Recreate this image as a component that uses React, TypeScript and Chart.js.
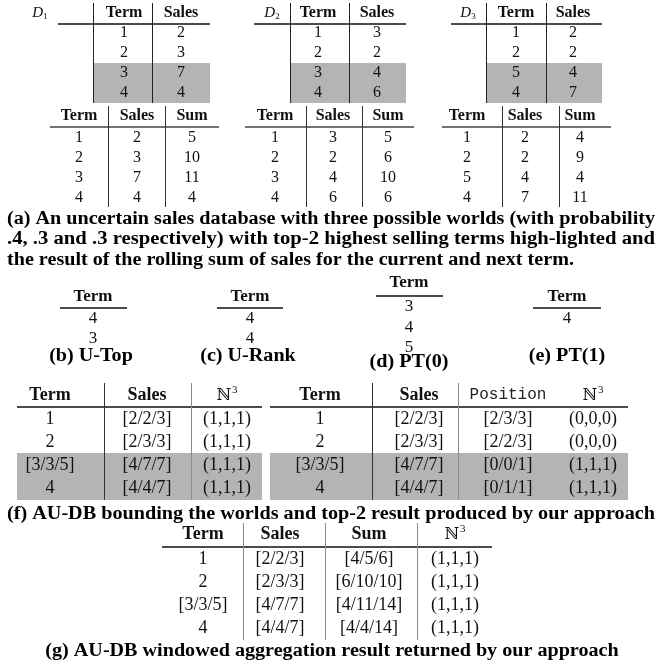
import React, { useEffect, useRef } from "react";
import { Chart, registerables } from "chart.js";

Chart.register(...registerables);

// ---------------- DATA ----------------
const worldIds = ["1", "2", "3"];
const worldTerms = [
  ["1", "2", "3", "4"],
  ["1", "2", "3", "4"],
  ["1", "2", "5", "4"],
];
const worldSales = [
  ["2", "3", "7", "4"],
  ["3", "2", "4", "6"],
  ["2", "2", "4", "7"],
];
const worldSums = [
  ["5", "10", "11", "4"],
  ["5", "6", "10", "6"],
  ["4", "9", "4", "11"],
];

const uTopTerms = ["4", "3"];
const uRankTerms = ["4", "4"];
const pt0Terms = ["3", "4", "5"];
const pt1Terms = ["4"];

const auTerms = ["1", "2", "[3/3/5]", "4"];
const auSales = ["[2/2/3]", "[2/3/3]", "[4/7/7]", "[4/4/7]"];
const auMult = ["(1,1,1)", "(1,1,1)", "(1,1,1)", "(1,1,1)"];
const topkPosition = ["[2/3/3]", "[2/2/3]", "[0/0/1]", "[0/1/1]"];
const topkMult = ["(0,0,0)", "(0,0,0)", "(1,1,1)", "(1,1,1)"];
const winSum = ["[4/5/6]", "[6/10/10]", "[4/11/14]", "[4/4/14]"];
const winMult = ["(1,1,1)", "(1,1,1)", "(1,1,1)", "(1,1,1)"];

const captionA = [
  "(a) An uncertain sales database with three possible worlds (with probability",
  ".4, .3 and .3 respectively) with top-2 highest selling terms high-lighted and",
  "the result of the rolling sum of sales for the current and next term.",
];
const captionB = "(b) U-Top";
const captionC = "(c) U-Rank";
const captionD = "(d) PT(0)";
const captionE = "(e) PT(1)";
const captionF = "(f) AU-DB bounding the worlds and top-2 result produced by our approach";
const captionG = "(g) AU-DB windowed aggregation result returned by our approach";

// ---------------- LAYOUT / STYLE ----------------
const W = 664;
const H = 667;
const SERIF = "'Liberation Serif', 'Times New Roman', serif";
const MONO = "'Liberation Mono', 'DejaVu Sans Mono', monospace";
const BODY = `16px ${SERIF}`;
const HEAD = `bold 16px ${SERIF}`;
const BODY_L = `18px ${SERIF}`;
const HEAD_L = `bold 18px ${SERIF}`;
const MINI_HEAD = `bold 17px ${SERIF}`;
const MINI_BODY = `17px ${SERIF}`;
const CAP = `bold 18px ${SERIF}`;
const GRAY = "#b4b4b4";
const LINE_DARK = "#333";
const LINE_GRAY = "#8a8a8a";

const topLayout = {
  labelX: [40, 272, 468],
  termX: [124, 318, 516],
  salesX: [181, 377, 573],
  vlines: [[93, 152], [290, 349], [486, 546]],
  lineX: [[58, 210], [254, 406], [451, 602]],
  headerY: 13,
  underlineY: 24,
  rowY: [33, 53, 73, 93],
  grayY: [63, 103],
  vY: [3, 103],
};
const sumLayout = {
  termX: [79, 275, 467],
  salesX: [137, 333, 525],
  sumX: [192, 388, 580],
  vlines: [[108, 165], [306, 362], [502, 559]],
  lineX: [[50, 219], [245, 414], [442, 611]],
  headerY: 116,
  underlineY: 127,
  rowY: [138, 158, 178, 198],
  vY: [106, 207],
};
const capALayout = { x: 7, width: 648, y: [219, 239, 260] };

const miniLayouts = [
  { cx: 93, headerY: 297, lineY: 308, lineX: [60, 127], rowY: [319, 339], capX: 91, capY: 356 },
  { cx: 250, headerY: 297, lineY: 308, lineX: [217, 283], rowY: [319, 339], capX: 248, capY: 356 },
  { cx: 409, headerY: 283, lineY: 296, lineX: [376, 443], rowY: [307, 328, 348], capX: 409, capY: 362 },
  { cx: 567, headerY: 297, lineY: 308, lineX: [533, 601], rowY: [319], capX: 567, capY: 356 },
];

const fLayout = {
  headerY: 395,
  underlineY: 407,
  rowY: [419, 442, 465, 488],
  grayY: [453, 500],
  vY: [383, 500],
  left: { cols: [50, 147, 227], vlines: [[104, LINE_DARK], [191, LINE_GRAY]], lineX: [17, 262] },
  right: { cols: [320, 419, 508, 593], vlines: [[372, LINE_DARK], [458, LINE_GRAY]], lineX: [270, 628] },
  capY: 514,
};
const gLayout = {
  cols: [203, 280, 369, 455],
  vlines: [243, 325, 417],
  lineX: [162, 492],
  headerY: 534,
  underlineY: 547,
  rowY: [559, 582, 605, 628],
  vY: [523, 640],
  capY: 651,
  capCX: 332,
};

// ---------------- DRAWING PLUGIN ----------------
const tablePlugin = {
  id: "tablePlugin",
  afterDraw(chart: any) {
    const ctx: CanvasRenderingContext2D = chart.ctx;
    const xs = chart.scales.x;
    const ys = chart.scales.y;
    const px = (v: number) => xs.getPixelForValue(v);
    const py = (v: number) => ys.getPixelForValue(v);

    const text = (s: string, x: number, y: number, font: string, align: CanvasTextAlign = "center", color = "#111") => {
      ctx.save();
      ctx.font = font;
      ctx.fillStyle = color;
      ctx.textAlign = align;
      ctx.textBaseline = "middle";
      ctx.fillText(s, px(x), py(y));
      ctx.restore();
    };
    const hline = (x0: number, x1: number, y: number, w = 1.3, color = "#111") => {
      ctx.save();
      ctx.strokeStyle = color;
      ctx.lineWidth = w;
      ctx.beginPath();
      ctx.moveTo(px(x0), py(y));
      ctx.lineTo(px(x1), py(y));
      ctx.stroke();
      ctx.restore();
    };
    const vline = (x: number, y0: number, y1: number, color = LINE_DARK, w = 1) => {
      ctx.save();
      ctx.strokeStyle = color;
      ctx.lineWidth = w;
      ctx.beginPath();
      ctx.moveTo(Math.round(px(x)) + 0.5, py(y0));
      ctx.lineTo(Math.round(px(x)) + 0.5, py(y1));
      ctx.stroke();
      ctx.restore();
    };
    const rect = (x0: number, x1: number, y0: number, y1: number) => {
      ctx.save();
      ctx.fillStyle = GRAY;
      ctx.fillRect(px(x0), py(y0), px(x1) - px(x0), py(y1) - py(y0));
      ctx.restore();
    };
    const nCube = (cx: number, y: number) => {
      ctx.save();
      ctx.fillStyle = "#111";
      ctx.textBaseline = "middle";
      ctx.font = `16px 'DejaVu Serif', serif`;
      const wN = ctx.measureText("ℕ").width;
      ctx.font = `11px ${SERIF}`;
      const w3 = ctx.measureText("3").width;
      const total = wN + w3 + 1;
      const x0 = px(cx) - total / 2;
      ctx.textAlign = "left";
      ctx.font = `16px 'DejaVu Serif', serif`;
      ctx.fillText("ℕ", x0, py(y) + 1);
      ctx.font = `11px ${SERIF}`;
      ctx.fillText("3", x0 + wN + 1, py(y) - 5);
      ctx.restore();
    };
    const dLabel = (id: string, cx: number, y: number) => {
      ctx.save();
      ctx.fillStyle = "#111";
      ctx.textBaseline = "middle";
      ctx.font = `italic 15px ${SERIF}`;
      const wD = ctx.measureText("D").width;
      ctx.font = `9px ${SERIF}`;
      const w1 = ctx.measureText(id).width;
      const x0 = px(cx) - (wD + w1) / 2;
      ctx.textAlign = "left";
      ctx.font = `italic 15px ${SERIF}`;
      ctx.fillText("D", x0, py(y));
      ctx.font = `9px ${SERIF}`;
      ctx.fillText(id, x0 + wD, py(y) + 4);
      ctx.restore();
    };
    const measureCap = (s: string) => {
      ctx.save();
      ctx.font = CAP;
      const w = ctx.measureText(s).width;
      ctx.restore();
      return w;
    };
    const capText = (s: string, x: number, y: number, sx: number) => {
      ctx.save();
      ctx.font = CAP;
      ctx.fillStyle = "#000";
      ctx.textBaseline = "middle";
      ctx.textAlign = "left";
      ctx.translate(px(x), py(y));
      ctx.scale(sx, 1);
      ctx.fillText(s, 0, 0);
      ctx.restore();
    };
    const fitScale = (s: string, width: number) => (px(width) - px(0)) / measureCap(s);

    // ---- (a) world tables ----
    worldIds.forEach((id, w) => {
      const L = topLayout;
      rect(L.vlines[w][0], L.lineX[w][1], L.grayY[0], L.grayY[1]);
      dLabel(id, L.labelX[w], L.headerY);
      text("Term", L.termX[w], L.headerY, HEAD);
      text("Sales", L.salesX[w], L.headerY, HEAD);
      hline(L.lineX[w][0], L.lineX[w][1], L.underlineY);
      worldTerms[w].forEach((t, i) => text(t, L.termX[w], L.rowY[i], BODY));
      worldSales[w].forEach((t, i) => text(t, L.salesX[w], L.rowY[i], BODY));
      L.vlines[w].forEach((x) => vline(x, L.vY[0], L.vY[1], "#222"));

      const S = sumLayout;
      text("Term", S.termX[w], S.headerY, HEAD);
      text("Sales", S.salesX[w], S.headerY, HEAD);
      text("Sum", S.sumX[w], S.headerY, HEAD);
      hline(S.lineX[w][0], S.lineX[w][1], S.underlineY, 1.3, "#444");
      worldTerms[w].forEach((t, i) => text(t, S.termX[w], S.rowY[i], BODY));
      worldSales[w].forEach((t, i) => text(t, S.salesX[w], S.rowY[i], BODY));
      worldSums[w].forEach((t, i) => text(t, S.sumX[w], S.rowY[i], BODY));
      S.vlines[w].forEach((x) => vline(x, S.vY[0], S.vY[1], "#333"));
    });
    const sA = fitScale(captionA[0], capALayout.width);
    capText(captionA[0], capALayout.x, capALayout.y[0], sA);
    capText(captionA[1], capALayout.x, capALayout.y[1], fitScale(captionA[1], capALayout.width));
    capText(captionA[2], capALayout.x, capALayout.y[2], sA);

    // ---- (b)-(e) ----
    const minis = [uTopTerms, uRankTerms, pt0Terms, pt1Terms];
    const miniCaps = [captionB, captionC, captionD, captionE];
    minis.forEach((vals, k) => {
      const M = miniLayouts[k];
      text("Term", M.cx, M.headerY, MINI_HEAD);
      hline(M.lineX[0], M.lineX[1], M.lineY);
      vals.forEach((v, i) => text(v, M.cx, M.rowY[i], MINI_BODY));
      const wc = measureCap(miniCaps[k]) * sA;
      capText(miniCaps[k], M.capX - wc / 2, M.capY, sA);
    });

    // ---- (f) ----
    const F = fLayout;
    rect(F.left.lineX[0], F.left.lineX[1], F.grayY[0], F.grayY[1]);
    rect(F.right.lineX[0], F.right.lineX[1], F.grayY[0], F.grayY[1]);
    text("Term", F.left.cols[0], F.headerY, HEAD_L);
    text("Sales", F.left.cols[1], F.headerY, HEAD_L);
    nCube(F.left.cols[2], F.headerY);
    hline(F.left.lineX[0], F.left.lineX[1], F.underlineY);
    auTerms.forEach((t, i) => text(t, F.left.cols[0], F.rowY[i], BODY_L));
    auSales.forEach((t, i) => text(t, F.left.cols[1], F.rowY[i], BODY_L));
    auMult.forEach((t, i) => text(t, F.left.cols[2], F.rowY[i], BODY_L));
    F.left.vlines.forEach(([x, c]) => vline(x as number, F.vY[0], F.vY[1], c as string));
    text("Term", F.right.cols[0], F.headerY, HEAD_L);
    text("Sales", F.right.cols[1], F.headerY, HEAD_L);
    text("Position", F.right.cols[2], F.headerY, `16px ${MONO}`, "center", "#222");
    nCube(F.right.cols[3], F.headerY);
    hline(F.right.lineX[0], F.right.lineX[1], F.underlineY);
    auTerms.forEach((t, i) => text(t, F.right.cols[0], F.rowY[i], BODY_L));
    auSales.forEach((t, i) => text(t, F.right.cols[1], F.rowY[i], BODY_L));
    topkPosition.forEach((t, i) => text(t, F.right.cols[2], F.rowY[i], BODY_L));
    topkMult.forEach((t, i) => text(t, F.right.cols[3], F.rowY[i], BODY_L));
    F.right.vlines.forEach(([x, c]) => vline(x as number, F.vY[0], F.vY[1], c as string));
    capText(captionF, capALayout.x, F.capY, fitScale(captionF, capALayout.width));

    // ---- (g) ----
    const G = gLayout;
    text("Term", G.cols[0], G.headerY, HEAD_L);
    text("Sales", G.cols[1], G.headerY, HEAD_L);
    text("Sum", G.cols[2], G.headerY, HEAD_L);
    nCube(G.cols[3], G.headerY);
    hline(G.lineX[0], G.lineX[1], G.underlineY);
    auTerms.forEach((t, i) => text(t, G.cols[0], G.rowY[i], BODY_L));
    auSales.forEach((t, i) => text(t, G.cols[1], G.rowY[i], BODY_L));
    winSum.forEach((t, i) => text(t, G.cols[2], G.rowY[i], BODY_L));
    winMult.forEach((t, i) => text(t, G.cols[3], G.rowY[i], BODY_L));
    G.vlines.forEach((x) => vline(x, G.vY[0], G.vY[1], LINE_GRAY));
    const wg = measureCap(captionG) * sA;
    capText(captionG, G.capCX - wg / 2, G.capY, sA);
  },
};

export default function App() {
  const ref = useRef<HTMLCanvasElement | null>(null);
  useEffect(() => {
    document.body.style.margin = "0";
    const canvas = ref.current;
    if (!canvas) return;
    const chart = new Chart(canvas, {
      type: "scatter",
      data: { datasets: [{ data: [], pointRadius: 0 }] },
      options: {
        animation: false,
        responsive: false,
        maintainAspectRatio: false,
        devicePixelRatio: 1,
        layout: { padding: 0 },
        scales: {
          x: { type: "linear", min: 0, max: W, display: false },
          y: { type: "linear", min: 0, max: H, reverse: true, display: false },
        },
        plugins: { legend: { display: false }, tooltip: { enabled: false }, title: { display: false } },
      },
      plugins: [tablePlugin],
    });
    return () => chart.destroy();
  }, []);
  return (
    <div style={{ position: "absolute", left: 0, top: 0, width: W, height: H, background: "#fff" }}>
      <canvas ref={ref} width={W} height={H} style={{ display: "block", width: W, height: H }} />
    </div>
  );
}
